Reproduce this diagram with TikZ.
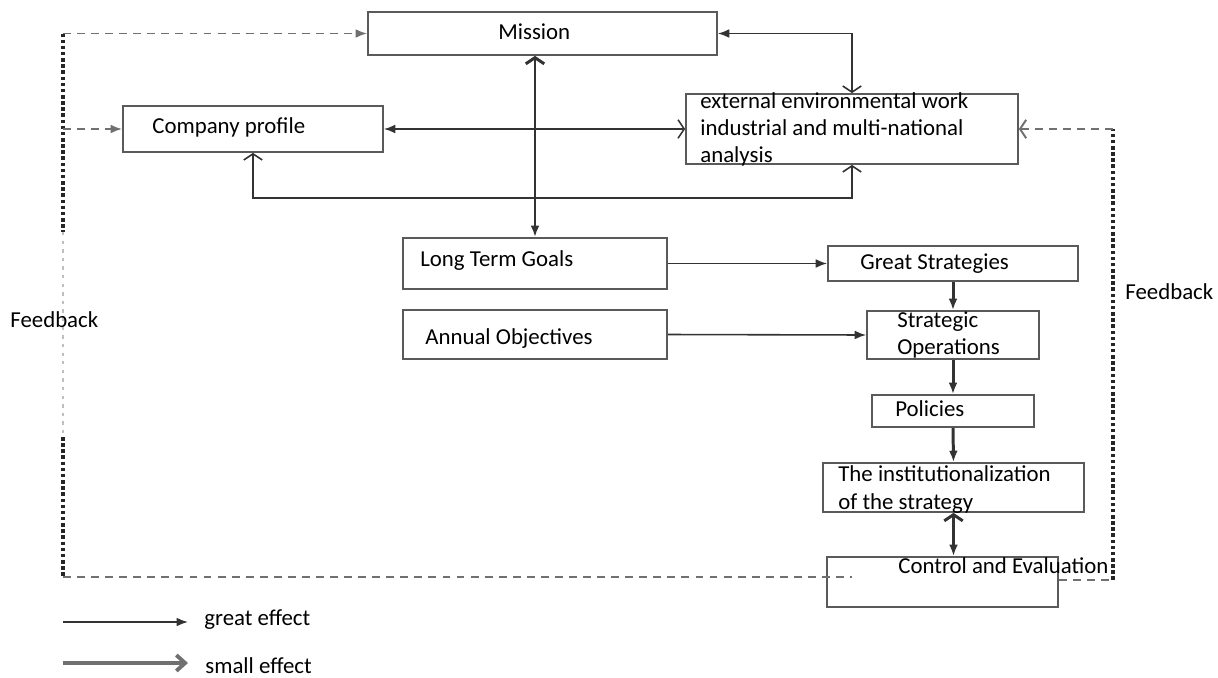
\documentclass[tikz,border=0pt]{standalone}
\usepackage{fontspec}
\setmainfont{Carlito}
\usetikzlibrary{arrows.meta,calc}
\definecolor{boxgray}{HTML}{5A5A5A}
\definecolor{linegray}{HTML}{333333}
\definecolor{dashgray}{HTML}{707070}
\begin{document}
\begin{tikzpicture}[x=0.02cm, y=-0.02cm,
  bigtip/.tip={Latex[length=6.5pt,width=5pt]},
  opentip/.tip={Straight Barb[length=3.5pt,width=10.5pt]},
  box/.style 2 args={draw=boxgray, line width=1pt, minimum width=#1cm,
                     minimum height=#2cm, inner sep=0pt},
  lbl/.style={font=\fontsize{13}{15.4}\selectfont, anchor=west,
              inner sep=0pt, align=left},
  conn/.style={draw=linegray, line width=0.9pt},
  heavy/.style={draw=linegray, line width=1.7pt},
  fbdash/.style={draw=dashgray, line width=1.1pt, dash pattern=on 4.5pt off 3.5pt},
  fbdot/.style={draw=black!85, line width=2.1pt, dash pattern=on 2pt off 1.5pt},
  fbfaint/.style={draw=black!25, line width=1.2pt, dash pattern=on 1.9pt off 3pt}
]
\useasboundingbox (0,0) rectangle (1218,677);
% boxes
\node[box={6.98}{0.86}] (mission) at (542.5, 33.5) {};
\node[box={5.20}{0.92}] (profile) at (253, 129) {};
\node[box={6.64}{1.40}] (extenv) at (852, 129) {};
\node[box={5.28}{1.02}] (goals) at (535, 263.5) {};
\node[box={5.28}{0.98}] (annual) at (535, 334.5) {};
\node[box={5.00}{0.70}] (great) at (953, 263.5) {};
\node[box={3.44}{0.96}] (operations) at (953, 335) {};
\node[box={3.24}{0.64}] (policies) at (953, 411) {};
\node[box={5.22}{0.98}] (institution) at (953.5, 487.5) {};
\node[box={4.62}{1.00}] (control) at (942.5, 582) {};
% texts
\node[lbl] (missiontxt) at (498, 32) {Mission};
\node[lbl] (profiletxt) at (152, 127) {Company profile};
\node[lbl] (extenvtxt) at (700, 129) {external environmental work\\
  industrial and multi-national\\analysis};
\node[lbl] (goalstxt) at (420, 261) {Long Term Goals};
\node[lbl] (annualtxt) at (425, 339) {Annual Objectives};
\node[lbl] (greattxt) at (860, 264) {Great Strategies};
\node[lbl] (operationstxt) at (897, 335) {Strategic\\Operations};
\node[lbl] (policiestxt) at (895, 409) {Policies};
\node[lbl] (institutiontxt) at (838, 489.5) {The institutionalization\\
  of the strategy};
\node[lbl] (controltxt) at (898, 566) {Control and Evaluation};
\node[lbl] (fbleft) at (10, 320) {Feedback};
\node[lbl] (fbright) at (1125, 292) {Feedback};
% upper connectors
\draw[conn, bigtip-opentip] (mission.east) -| (extenv.north);
\draw[heavy, opentip-bigtip] (mission.south -| goals.north) -- (goals.north);
\draw[conn, bigtip-opentip] (profile.east) -- (extenv.west);
\coordinate (bus) at (535, 198);
\draw[conn, opentip-opentip] (profile.south) |- (bus) -| (extenv.south);
% strategy chain
\draw[conn, -bigtip] (goals.east) -- (great.west);
\draw[conn, -bigtip] (annual.east) -- (operations.west);
\draw[heavy, -bigtip] (great.south) -- (operations.north);
\draw[heavy, -bigtip] (operations.south) -- (policies.north);
\draw[heavy, -bigtip] (policies.south) -- (institution.north);
\draw[heavy, opentip-bigtip] (institution.south) -- (institution.south |- control.north);
% feedback loops
\coordinate (fbTL) at (63, 33.5);
\coordinate (fbBL) at (63, 577);
\coordinate (fbEnd) at (852, 577);
\coordinate (fbBR) at (1113, 580);
\coordinate (fbTR) at (1113, 129);
\draw[fbdot] (fbTL) -- (63, 232);
\draw[fbfaint] (63, 232) -- (63, 437);
\draw[fbdot] (63, 437) -- (fbBL);
\draw[fbdash, -bigtip] (fbTL) -- (mission.west);
\draw[fbdash, -bigtip] (fbTL |- profile.west) -- (profile.west);
\draw[fbdash] (fbBL) -- (fbEnd);
\draw[fbdash] (control.east |- fbBR) -- (fbBR);
\draw[fbdot] (fbBR) -- (fbTR);
\draw[fbdash, -opentip] (fbTR) -- (extenv.east);
% legend
\node[lbl] (greatkey) at (204, 620) {great effect};
\node[lbl] (smallkey) at (205, 666) {small effect};
\coordinate (keyA) at (63, 622);
\coordinate (keyB) at (188, 622);
\coordinate (keyC) at (63, 663);
\coordinate (keyD) at (188, 663);
\draw[conn, -bigtip] (keyA) -- (keyB);
\draw[draw=dashgray, line width=2.2pt, -{Straight Barb[length=5pt,width=9pt]}] (keyC) -- (keyD);
\end{tikzpicture}
\end{document}
